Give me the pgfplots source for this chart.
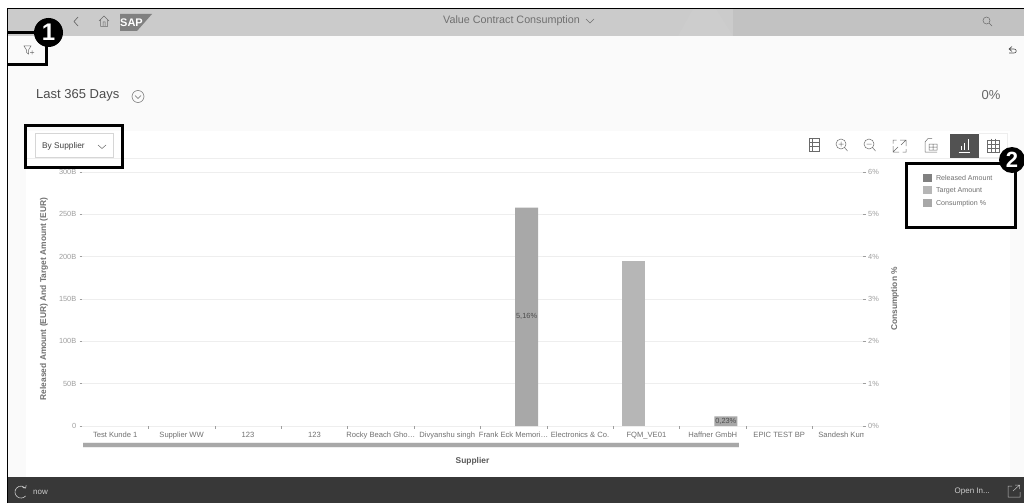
\documentclass[border=0pt]{standalone}
\usepackage{fontspec}
\setmainfont{Liberation Sans}
\usepackage{pgfplots}
\pgfplotsset{compat=1.18}
\newcommand\fs[1]{\fontsize{#1}{#1}\selectfont}
\definecolor{hdr}{HTML}{CBCBCB}
\definecolor{hdrdark}{HTML}{C2C2C2}
\definecolor{hdrlite}{HTML}{CDCDCD}
\definecolor{page}{HTML}{FAFAFA}
\definecolor{foot}{HTML}{383838}
\definecolor{gridc}{HTML}{EEEEEE}
\definecolor{tickc}{HTML}{9E9E9E}
\definecolor{labc}{HTML}{707070}
\definecolor{relc}{HTML}{808080}
\definecolor{tarc}{HTML}{B6B6B6}
\definecolor{conc}{HTML}{A8A8A8}
\definecolor{iconc}{HTML}{6A6A6A}
\begin{document}
\begin{tikzpicture}[x=1pt,y=-1pt]
\path[use as bounding box] (0,0) rectangle (1024,503);
% page regions
\fill[white] (0,0) rectangle (1024,503);
\fill[page] (8,9) rectangle (1024,477);
\fill[white] (26,131) rectangle (1010,477);
\fill[hdr] (8,9) rectangle (1024,36);
\fill[hdrdark] (733,9) rectangle (1024,36);
\fill[hdrlite] (678,36) -- (693,9) -- (716,9) -- (733,36) -- cycle;
\fill[foot] (8,477) rectangle (1024,503);
\draw[gridc,line width=0.7pt] (26,158.5) -- (1010,158.5);
\draw[black,line width=1.2pt] (7.5,503) -- (7.5,8.5) -- (1024,8.5);
% shell bar
\draw[iconc,line width=0.7pt] (78,17) -- (74,21.5) -- (78,26);
\draw[iconc,line width=0.5pt] (99,21) -- (104,16) -- (109,21) (100.5,20) -- (100.5,26.5) -- (107.5,26.5) -- (107.5,20) (103,26.5) -- (103,22) -- (105,22) -- (105,26.5);
\fill[iconc!85!white] (120,14) -- (152,14) -- (137,31) -- (120,31) -- cycle;
\node[text=white,font=\fs{11}\bfseries,inner sep=0] at (131.5,22.5) {SAP};
\node[text=labc,font=\fs{10.75},anchor=west,inner sep=0] at (443,21) {Value Contract Consumption};
\draw[labc,line width=0.5pt] (586,19) -- (590,23) -- (594,19);
\draw[iconc,line width=0.5pt] (986.5,20.5) circle (3.5) (989,23) -- (992,26);
% filter button and undo
\draw[iconc,line width=0.5pt] (24,46) -- (31,46) -- (28.5,50) -- (28.5,54) -- (26.5,52.5) -- (26.5,50) -- cycle (30,52.5) -- (34,52.5) (32,50.5) -- (32,54.5);
\draw[black!70,line width=0.6pt] (1012,46.5) -- (1009,49) -- (1012,51.5) (1009,49) -- (1014,49) .. controls (1017,49) and (1017,53) .. (1014,53) -- (1009,53);
% title row
\node[text=black!70,font=\fs{13},anchor=west,inner sep=0] at (36,95) {Last 365 Days};
\draw[iconc,line width=0.5pt] (138,96.5) circle (6);
\draw[iconc,line width=0.5pt] (135,95.5) -- (138,98.5) -- (141,95.5);
\node[text=black!60,font=\fs{13},anchor=east,inner sep=0] at (1000.5,95) {0\%};
% selector
\draw[gridc!90!black,line width=0.6pt] (35.5,133.5) rectangle (113.5,157.5);
\node[text=black!75,font=\fs{8.3},anchor=west,inner sep=0] at (42,146) {By Supplier};
\draw[iconc,line width=0.5pt] (98,145) -- (102,148.5) -- (106,145);
% toolbar
\draw[iconc,line width=0.6pt] (809,138) rectangle (819,151) (809,142.3) -- (819,142.3) (809,146.6) -- (819,146.6) (812.5,138) -- (812.5,151);
\draw[iconc,line width=0.5pt] (841,144) circle (5) (844.5,147.5) -- (847.5,151) (838.5,144) -- (843.5,144) (841,141.5) -- (841,146.5);
\draw[iconc,line width=0.5pt] (869,144) circle (5) (872.5,147.5) -- (875.5,151) (866.5,144) -- (871.5,144);
\draw[iconc,line width=0.5pt] (893,146) -- (893,152) -- (899,152) (893,152) -- (898,147) (900,140) -- (906,140) -- (906,146) (906,140) -- (901,145) (893,143.5) -- (893,140) -- (896.5,140) (906,149) -- (906,152) -- (902.5,152);
\draw[iconc,line width=0.5pt] (925,152) -- (925,142) -- (928,138.5) -- (932,138.5) (925,152) -- (937,152) (929,144) rectangle (937,150) (929,147) -- (937,147) (933,144) -- (933,150);
\draw[gridc,line width=0.6pt] (979,133.5) -- (1007.5,133.5) -- (1007.5,157.5) -- (979,157.5);
\fill[black!68] (950,134) rectangle (979,157.5);
\draw[white,line width=0.8pt] (958.5,152) -- (970,152) (961,150) -- (961,146) (964.5,150) -- (964.5,143) (968,150) -- (968,139);
\draw[iconc,line width=0.6pt] (987,140) rectangle (999,152) (987,144) -- (999,144) (987,148) -- (999,148) (991,138.5) -- (991,153) (995,138.5) -- (995,153);

% amounts on the left scale
\begin{axis}[
  at={(82pt,-426pt)}, anchor=south west, scale only axis,
  width=781pt, height=254pt,
  xmin=-0.5, xmax=11.262, ymin=0, ymax=300,
  axis x line*=bottom, axis y line*=left,
  axis line style={draw=none},
  ytick={0,50,100,150,200,250,300},
  yticklabels={0,50B,100B,150B,200B,250B,300B},
  ymajorgrids, grid style={gridc,line width=0.7pt},
  xtick={0.5,1.5,2.5,3.5,4.5,5.5,6.5,7.5,8.5,9.5,10.5},
  xticklabels={},
  extra x ticks={0,1,2,3,4,5,6,7,8,9,10,11},
  extra x tick labels={Test Kunde 1,Supplier WW,123,123,Rocky Beach Gho\textellipsis,Divyanshu singh,Frank Eck Memori\textellipsis,Electronics \& Co.,FQM\_VE01,Haffner GmbH,EPIC TEST BP,Sandesh Kumar},
  extra x tick style={major tick length=0pt,tick style={draw=none},
    xticklabel style={yshift=-3.5pt}},
  tick align=outside, major tick length=2.5pt,
  tick style={tickc,line width=0.5pt},
  /pgf/number format/assume math mode=true,
  ticklabel style={font=\fs{7.4},text=tickc},
  xticklabel style={font=\fs{7.6},text=labc,inner sep=2pt},
  yticklabel style={inner xsep=3pt},
  every axis y label/.style={at={(axis description cs:-0.0487,0.5)},rotate=90,anchor=center},
  ylabel={\fs{8.4}\bfseries Released Amount (EUR) And Target Amount (EUR)},
  ylabel style={text=labc},
  every axis x label/.style={at={(axis description cs:0.5,-0.138)},anchor=center},
  xlabel={\fs{8.4}\bfseries Supplier},
  xlabel style={text=black!65},
]
\addplot[ybar,bar width=23pt,bar shift=-13pt,fill=none,draw=none] coordinates
  {(0,0) (1,0) (2,0) (3,0) (4,0) (5,0) (6,0) (7,0) (8,0) (9,0) (10,0) (11,0)};
\addplot[ybar,bar width=23pt,bar shift=-13pt,fill=tarc,draw=none,restrict y to domain=0.001:1000] coordinates
  {(0,0) (1,0) (2,0) (3,0) (4,0) (5,0) (6,0) (7,0) (8,195) (9,0) (10,0) (11,0)};
\end{axis}

% consumption share on the right scale
\begin{axis}[
  at={(82pt,-426pt)}, anchor=south west, scale only axis,
  width=781pt, height=254pt,
  xmin=-0.5, xmax=11.262, ymin=0, ymax=6,
  axis x line=none, axis y line*=right,
  axis line style={draw=none},
  ytick={0,1,2,3,4,5,6},
  yticklabels={0\%,1\%,2\%,3\%,4\%,5\%,6\%},
  tick align=outside, major tick length=3pt,
  tick style={tickc,line width=0.5pt},
  /pgf/number format/assume math mode=true,
  ticklabel style={font=\fs{7.4},text=tickc},
  yticklabel style={inner xsep=2pt},
  every axis y label/.style={at={(axis description cs:1.041,0.5)},rotate=90,anchor=center},
  ylabel={\fs{8.4}\bfseries Consumption \%},
  ylabel style={text=labc},
  legend style={at={(axis description cs:1.0768,0.992)},anchor=north west,
    draw=none,fill=none,inner sep=0pt,outer sep=0pt,
    font=\fs{7.1},text=labc,row sep=4.4pt,column sep=4pt,nodes={inner sep=0pt,outer sep=0pt,text depth=0pt}},
  legend cell align=left,
  legend image code/.code={\path[#1,draw=none] (0pt,-4pt) rectangle (9pt,4pt);},
]
\addlegendimage{fill=relc}
\addlegendentry{Released Amount}
\addlegendimage{fill=tarc}
\addlegendentry{Target Amount}
\addplot[ybar,bar width=23pt,bar shift=13pt,fill=conc,draw=none,forget plot,restrict y to domain=0.001:1000] coordinates
  {(0,0) (1,0) (2,0) (3,0) (4,0) (5,0) (6,5.16) (7,0) (8,0) (9,0.23) (10,0) (11,0)};
\addlegendimage{fill=conc}
\addlegendentry{Consumption \%}
\node[font=\fs{7.4},text=black!70,inner sep=0,xshift=13pt] at (axis cs:6,2.58) {5,16\%};
\node[font=\fs{7.4},text=black!70,inner sep=0,xshift=13pt] at (axis cs:9,0.115) {0,23\%};
\end{axis}

% clipped end of the last category label
\fill[white] (863.5,428.5) rectangle (880,441);
% horizontal scroll bar
\fill[gridc] (83,442) rectangle (739,448);
\fill[conc] (83,443) rectangle (739,447);
% footer
\draw[white!80!black,line width=0.6pt] (25.6,495.9) arc[start angle=40,end angle=320,radius=6] (26.2,485.2) -- (25.6,488.1) -- (22.6,487.6);
\node[text=white!80!black,font=\fs{8},anchor=west,inner sep=0] at (33,492) {now};
\node[text=white!80!black,font=\fs{8},anchor=east,inner sep=0] at (990,492) {Open In...};
\draw[white!75!black,line width=0.5pt] (1020,492) -- (1020,497) -- (1008,497) -- (1008,486) -- (1012,486) (1013,491) -- (1019,485.5) (1015,485) -- (1019.5,485) -- (1019.5,489);
% numbered call-outs
\draw[black,line width=3pt] (8,33) -- (46,33) -- (46,64) -- (8,64);
\draw[black,line width=3pt] (25.5,125.5) rectangle (122.5,167);
\draw[black,line width=3pt] (906,163.5) rectangle (1015,227);
\fill[black] (48.5,32.5) circle (14.5);
\node[text=white,font=\fs{24}\bfseries,inner sep=0] at (48.5,32.5) {1};
\fill[black] (1012,160) circle (13);
\node[text=white,font=\fs{22}\bfseries,inner sep=0] at (1012,160) {2};
\end{tikzpicture}
\end{document}
